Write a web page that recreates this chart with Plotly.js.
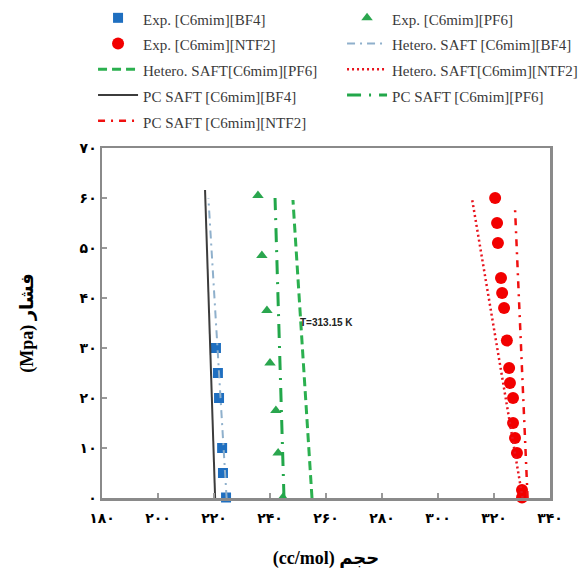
<!DOCTYPE html>
<html>
<head>
<meta charset="utf-8">
<script src="https://cdn.plot.ly/plotly-3.0.1.min.js"></script>
<style>html,body{margin:0;padding:0;background:#fff;}#chart{width:584px;height:569px;}</style>
</head>
<body>
<div id="chart"></div>
<script>
// Experimental data: volume (cc/mol) vs pressure (MPa)
const expBF4_V = [220.7, 221.4, 221.8, 222.9, 223.2, 224.3];
const expBF4_P = [30, 25, 20, 10, 5, 0.1];
const expPF6_V = [235.7, 237.1, 238.9, 240.0, 242.1, 242.9, 244.6];
const expPF6_P = [60.5, 48.5, 37.5, 27, 17.5, 9, 0.1];
const expNTF2_V = [320.4, 321.1, 321.4, 322.5, 322.9, 323.6, 324.6, 325.4, 325.7, 326.8, 326.8, 327.5, 328.2, 330.0, 330.0];
const expNTF2_P = [60, 55, 51, 44, 41, 38, 31.5, 26, 23, 20, 15, 12, 9, 1.6, 0.1];
// Model curves
const hetBF4_V = [224.5, 218.0];
const hetBF4_P = [0, 60];
const hetPF6_V = [255.0, 248.2];
const hetPF6_P = [0, 59.6];
const hetNTF2_V = [330.2, 312.1];
const hetNTF2_P = [0, 60];
const pcBF4_V = [220.4, 216.8];
const pcBF4_P = [0, 61.6];
const pcPF6_V = [245.0, 241.8];
const pcPF6_P = [0, 60];
const pcNTF2_V = [332.0, 327.5];
const pcNTF2_P = [0, 58];
// Axis ticks
const xTickVals = [180, 200, 220, 240, 260, 280, 300, 320, 340];
const xTickText = ['۱۸۰', '۲۰۰', '۲۲۰', '۲۴۰', '۲۶۰', '۲۸۰', '۳۰۰', '۳۲۰', '۳۴۰'];
const yTickVals = [0, 10, 20, 30, 40, 50, 60, 70];
const yTickText = ['۰', '۱۰', '۲۰', '۳۰', '۴۰', '۵۰', '۶۰', '۷۰'];

const lab = s => '<span style="font-size:15px">' + s + '</span>';

const traces = [
  {x: expBF4_V, y: expBF4_P, mode: 'markers', name: lab('Exp. [C6mim][BF4]'), legend: 'legend',
   marker: {symbol: 'square', size: 10, color: '#1f6fc0'}, cliponaxis: false},
  {x: expNTF2_V, y: expNTF2_P, mode: 'markers', name: lab('Exp. [C6mim][NTF2]'), legend: 'legend',
   marker: {symbol: 'circle', size: 12, color: '#f20000'}, cliponaxis: false},
  {x: hetPF6_V, y: hetPF6_P, mode: 'lines', name: lab('Hetero. SAFT[C6mim][PF6]'), legend: 'legend',
   line: {color: '#2bb04f', width: 3, dash: '9px,5px'}},
  {x: pcBF4_V, y: pcBF4_P, mode: 'lines', name: lab('PC SAFT [C6mim][BF4]'), legend: 'legend',
   line: {color: '#3c3c3c', width: 2}},
  {x: pcNTF2_V, y: pcNTF2_P, mode: 'lines', name: lab('PC SAFT [C6mim][NTF2]'), legend: 'legend',
   line: {color: '#f01010', width: 2.5, dash: '7px,6px,2px,6px'}},
  {x: expPF6_V, y: expPF6_P, mode: 'markers', name: lab('Exp. [C6mim][PF6]'), legend: 'legend2',
   marker: {symbol: 'triangle-up', size: 10, color: '#2aa64e'}, cliponaxis: false},
  {x: hetBF4_V, y: hetBF4_P, mode: 'lines', name: lab('Hetero. SAFT [C6mim][BF4]'), legend: 'legend2',
   line: {color: '#8fb0cc', width: 2, dash: '8px,5px,2px,5px'}},
  {x: hetNTF2_V, y: hetNTF2_P, mode: 'lines', name: lab('Hetero. SAFT[C6mim][NTF2]'), legend: 'legend2',
   line: {color: '#e8141e', width: 2.5, dash: '2px,3px'}},
  {x: pcPF6_V, y: pcPF6_P, mode: 'lines', name: lab('PC SAFT [C6mim][PF6]'), legend: 'legend2',
   line: {color: '#22a74a', width: 3, dash: '14px,8px,2px,8px'}}
];

const axisCommon = {
  showline: true, mirror: true, linecolor: '#8a8a8a', linewidth: 2.5,
  ticks: 'inside', ticklen: 5, tickcolor: '#999', tickwidth: 1.5,
  showgrid: false, zeroline: false,
  tickfont: {family: 'DejaVu Sans', size: 14, color: '#000', weight: 'bold'}
};

const legendCommon = {
  orientation: 'v', xanchor: 'left', y: 1.423, yanchor: 'top', itemwidth: 40,
  font: {family: 'Liberation Serif', size: 17.5, color: '#3a3a3a'},
  bgcolor: 'rgba(0,0,0,0)', traceorder: 'normal'
};

const layout = {
  width: 584, height: 569,
  margin: {l: 102, r: 34, t: 148, b: 71, autoexpand: false},
  paper_bgcolor: '#fff', plot_bgcolor: '#fff',
  showlegend: true,
  legend: Object.assign({}, legendCommon, {x: -0.02}),
  legend2: Object.assign({}, legendCommon, {x: -0.02 + 249 / 448}),
  xaxis: Object.assign({}, axisCommon, {
    range: [180, 340], tickvals: xTickVals, ticktext: xTickText,
    ticklabelstandoff: 6,
    title: {text: '(cc/mol) حجم', standoff: 26,
      font: {family: 'Liberation Serif, DejaVu Sans', size: 18, color: '#000', weight: 'bold'}}
  }),
  yaxis: Object.assign({}, axisCommon, {
    range: [0, 70], tickvals: yTickVals, ticktext: yTickText,
    title: {text: '(Mpa) فشار', standoff: 42,
      font: {family: 'Liberation Serif, DejaVu Sans', size: 18, color: '#000', weight: 'bold'}}
  }),
  annotations: [{
    x: 250, y: 35.2, xref: 'x', yref: 'y', xanchor: 'left', yanchor: 'middle',
    text: 'T=313.15 K', showarrow: false,
    font: {family: 'Liberation Sans', size: 10, color: '#222', weight: 'bold'}
  }]
};

Plotly.newPlot('chart', traces, layout, {displayModeBar: false, staticPlot: true});
</script>
</body>
</html>
